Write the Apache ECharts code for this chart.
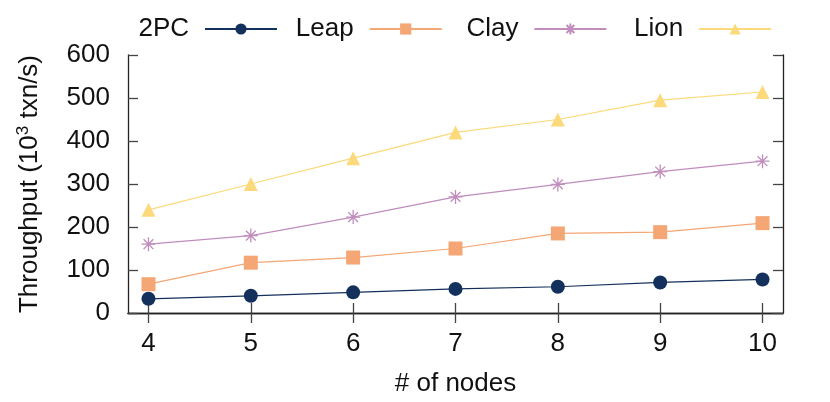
<!DOCTYPE html>
<html>
<head>
<meta charset="UTF-8">
<title>Throughput vs nodes</title>
<script src="https://cdn.jsdelivr.net/npm/echarts@6.0.0/dist/echarts.min.js"></script>
<style>
    body { margin: 0; padding: 0; background: #fff; }
    #chart { width: 830px; height: 402px; }
</style>
</head>
<body>
<div id="chart"></div>
<script>
var nodes = [4, 5, 6, 7, 8, 9, 10];
var yTicks = [0, 100, 200, 300, 400, 500, 600];
var names = ['2PC', 'Leap', 'Clay', 'Lion'];
var v2pc = [33, 40, 48, 56, 61, 71, 78];
var vLeap = [67, 117, 129, 150, 185, 188, 209];
var vClay = [160, 180, 223, 270, 299, 329, 353];
var vLion = [240, 300, 360, 420, 450, 495, 514];

var colors = ['#14305c', '#f4a674', '#c08dbd', '#fcd97a'];
var asterisk = 'path://M5,0L5,10M0,5L10,5M1.5,1.5L8.5,8.5M1.5,8.5L8.5,1.5';
var font = '"Liberation Sans", Arial, sans-serif';
var fs = 26;

function pairs(vals) {
    return nodes.map(function (n, i) { return [n, vals[i]]; });
}

function mk(name, vals, color, symbol, size, hollow) {
    return {
        name: name,
        type: 'line',
        data: pairs(vals),
        symbol: symbol,
        symbolSize: size,
        showAllSymbol: true,
        lineStyle: { color: color, width: 1.2 },
        itemStyle: hollow
            ? { color: 'none', borderColor: color, borderWidth: 1.3 }
            : { color: color, borderWidth: 0 },
        emphasis: { disabled: true },
        animation: false
    };
}

// gnuplot-style key: text, then the sample; samples sit in fixed columns
var legends = names.map(function (n, i) {
    return {
        data: [n],
        right: 830 - (283 + i * 164.7),
        top: 11,
        align: 'right',
        itemWidth: 72,
        itemHeight: 14,
        textStyle: { fontSize: fs, color: '#111', padding: [0, 11, 0, 0] }
    };
});

var chart = echarts.init(document.getElementById('chart'));

var axisLine = { show: true, lineStyle: { color: '#222', width: 1.3 } };
var tick = { show: true, inside: true, length: 10, lineStyle: { color: '#444', width: 1.3 } };

chart.setOption({
    animation: false,
    textStyle: { fontFamily: font },
    legend: legends,
    grid: { left: 128, right: 47, top: 55, bottom: 89 },
    xAxis: [{
        type: 'value',
        min: 3.8,
        max: 10.2,
        name: '# of nodes',
        nameLocation: 'middle',
        nameGap: 58,
        nameTextStyle: { fontSize: fs, color: '#111' },
        axisLine: axisLine,
        axisTick: Object.assign({ customValues: nodes }, tick),
        axisLabel: { customValues: nodes, fontSize: fs, color: '#111', margin: 18 },
        splitLine: { show: false }
    }, {
        type: 'value',
        position: 'top',
        min: 3.8,
        max: 10.2,
        axisLine: axisLine,
        axisTick: Object.assign({ customValues: nodes }, tick),
        axisLabel: { show: false },
        splitLine: { show: false }
    }],
    yAxis: [{
        type: 'value',
        min: 0,
        max: 600,
        interval: 100,
        name: 'Throughput (10{sup|3} txn/s)',
        nameLocation: 'middle',
        nameGap: 84,
        nameTextStyle: {
            fontSize: fs, color: '#111',
            rich: { sup: { fontSize: 17, color: '#111', padding: [0, 0, 12, 0] } }
        },
        axisLine: axisLine,
        axisTick: tick,
        axisLabel: { fontSize: fs, color: '#111', margin: 18, customValues: yTicks },
        splitLine: { show: false }
    }, {
        type: 'value',
        position: 'right',
        min: 0,
        max: 600,
        interval: 100,
        axisLine: axisLine,
        axisTick: tick,
        axisLabel: { show: false },
        splitLine: { show: false }
    }],
    series: [
        mk(names[0], v2pc, colors[0], 'circle', 14, false),
        mk(names[1], vLeap, colors[1], 'rect', 14, false),
        mk(names[2], vClay, colors[2], asterisk, 14, true),
        mk(names[3], vLion, colors[3], 'triangle', 14, false)
    ]
});
</script>
</body>
</html>
